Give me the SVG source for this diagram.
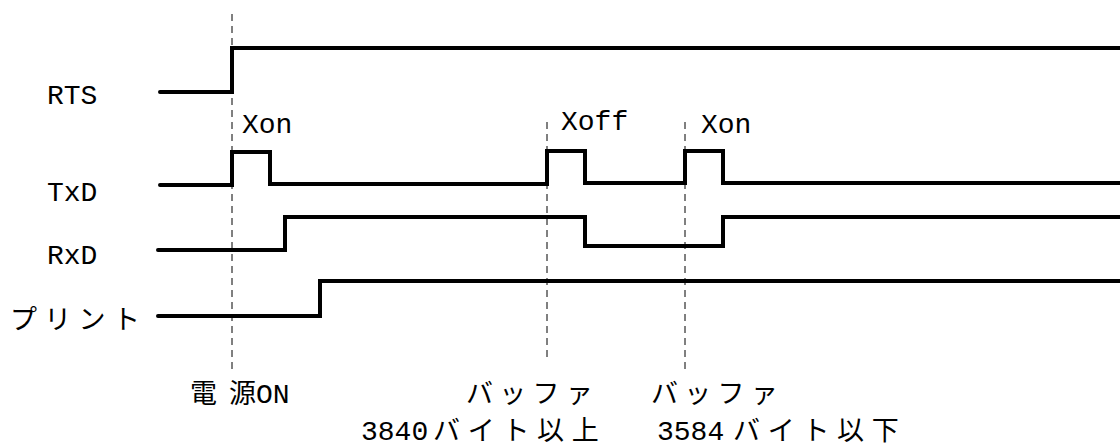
<svg xmlns="http://www.w3.org/2000/svg" width="1120" height="446" viewBox="0 0 1120 446">
<style>
.sig{fill:none;stroke:#000;stroke-width:4;stroke-linejoin:miter;stroke-linecap:round}
.dash{fill:none;stroke:#000;stroke-width:1;stroke-dasharray:7,5}
.t{font-family:"Liberation Mono","Noto Sans CJK JP",monospace;font-size:28px;fill:#000}
.j{font-family:"Noto Sans CJK JP","Liberation Mono",sans-serif;font-size:27px}
</style>
<rect width="1120" height="446" fill="#fff"/>
<g id="guides">
<line class="dash" x1="232" y1="14" x2="232" y2="374"/>
<line class="dash" x1="547" y1="122" x2="547" y2="362"/>
<line class="dash" x1="685" y1="122" x2="685" y2="374"/>
</g>
<g id="connectors">
<path id="rts-wave" class="sig" d="M160,92 H232 V48 H1122"/>
<path id="txd-wave" class="sig" d="M160,185 H232 V152 H270 V184 H547 V151 H585 V183 H685 V151 H723 V183 H1122"/>
<path id="rxd-wave" class="sig" d="M158,250 H285 V217 H585 V246 H723 V217 H1122"/>
<path id="print-wave" class="sig" d="M158,316 H320 V281 H1122"/>
</g>
<g id="rts"><text class="t" x="47" y="104">RTS</text></g>
<g id="txd"><text class="t" x="47" y="201">TxD</text></g>
<g id="rxd"><text class="t" x="47" y="264">RxD</text></g>
<g id="print"><text class="t j" x="10" y="329" letter-spacing="7.3">プリント</text></g>
<g id="xon1"><text class="t" x="242" y="133">Xon</text></g>
<g id="xoff"><text class="t" x="561" y="130">Xoff</text></g>
<g id="xon2"><text class="t" x="701" y="133">Xon</text></g>
<g id="power-on"><text class="t" y="403"><tspan class="j" x="190 229">電源</tspan><tspan x="256">ON</tspan></text></g>
<g id="buffer-full">
<text class="t j" x="466" y="403" letter-spacing="6.3">バッファ</text>
<text class="t" y="440"><tspan x="361">3840</tspan><tspan class="j" x="433" letter-spacing="7.7">バイト以上</tspan></text>
</g>
<g id="buffer-low">
<text class="t j" x="651" y="403" letter-spacing="6.3">バッファ</text>
<text class="t" y="440"><tspan x="657">3584</tspan><tspan class="j" x="733" letter-spacing="7.7">バイト以下</tspan></text>
</g>
</svg>
